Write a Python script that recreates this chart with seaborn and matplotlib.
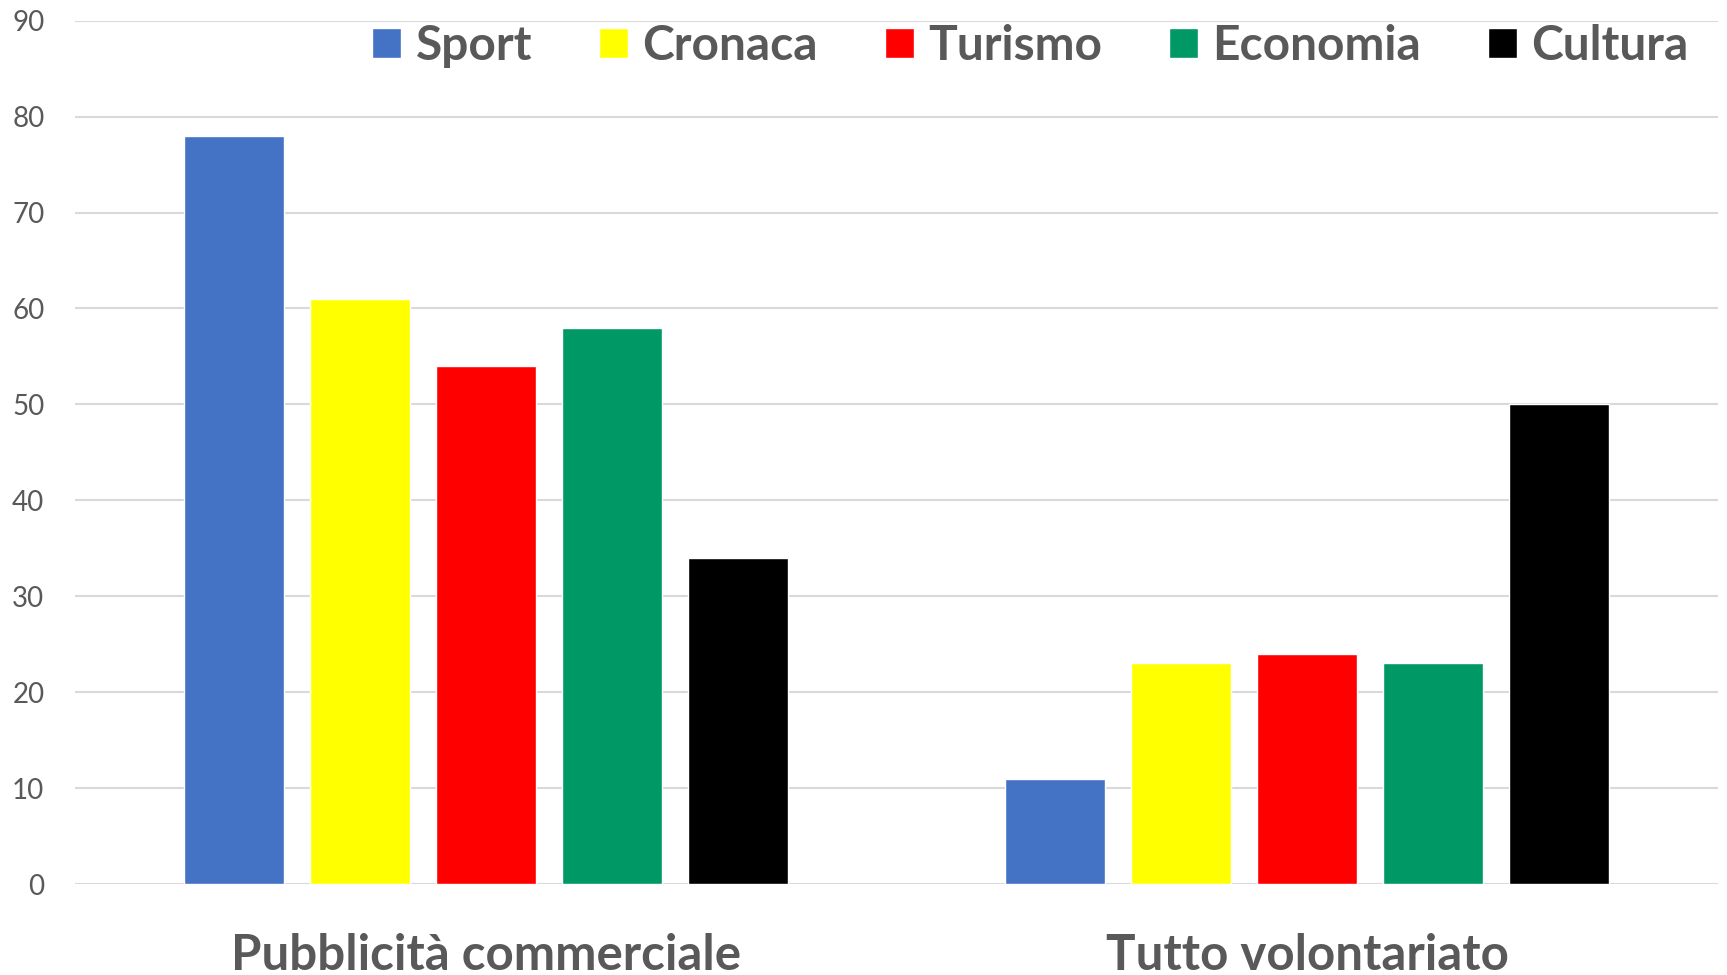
import pandas as pd
import matplotlib.pyplot as plt
import seaborn as sns

# --- data ---
categorie = ["Pubblicità commerciale", "Tutto volontariato"]
temi = ["Sport", "Cronaca", "Turismo", "Economia", "Cultura"]
sport = [78, 11]
cronaca = [61, 23]
turismo = [54, 24]
economia = [58, 23]
cultura = [34, 50]
colori = ["#4472C4", "#FFFF00", "#FF0000", "#009966", "#000000"]

serie = [sport, cronaca, turismo, economia, cultura]
rows = []
for tema, valori in zip(temi, serie):
    for cat, v in zip(categorie, valori):
        rows.append({"Categoria": cat, "Tema": tema, "Valore": v})
df = pd.DataFrame(rows)

sns.set_theme(style="white")
plt.rcParams["font.family"] = ["Lato", "DejaVu Sans"]
grigio = "#595959"

fig = plt.figure(figsize=(17.27, 9.75), dpi=100)
ax = fig.add_axes([0.0434, 0.0933, 0.9514, 0.8855])

sns.barplot(data=df, x="Categoria", y="Valore", hue="Tema", order=categorie,
            hue_order=temi, palette=colori, saturation=1, width=0.767, gap=0.207,
            ax=ax, zorder=3)

ax.set_xlim(-0.5, 1.5)
ax.set_ylim(0, 90)
ax.set_yticks(range(0, 91, 10))
ax.yaxis.grid(True, color="#D9D9D9", linewidth=1.5, zorder=0)
ax.set_axisbelow(True)
for s in ax.spines.values():
    s.set_visible(False)
ax.set_xlabel("")
ax.set_ylabel("")
ax.tick_params(axis="y", length=0, pad=22, labelsize=20, labelcolor=grigio)
ax.tick_params(axis="x", length=0, pad=35, labelsize=35.5, labelcolor=grigio)
for lab in ax.get_xticklabels():
    lab.set_fontweight("bold")

handles, labels = ax.get_legend_handles_labels()
ax.legend_.remove()
leg = fig.legend(handles, labels, loc="center right", bbox_to_anchor=(0.9915, 0.953),
                 ncol=5, frameon=False, borderpad=0, handlelength=0.6, handleheight=0.6,
                 handletextpad=0.3, columnspacing=1.4,
                 prop={"size": 34.5, "weight": "bold"})
for t in leg.get_texts():
    t.set_color(grigio)

fig.savefig("out.png", dpi=100)
